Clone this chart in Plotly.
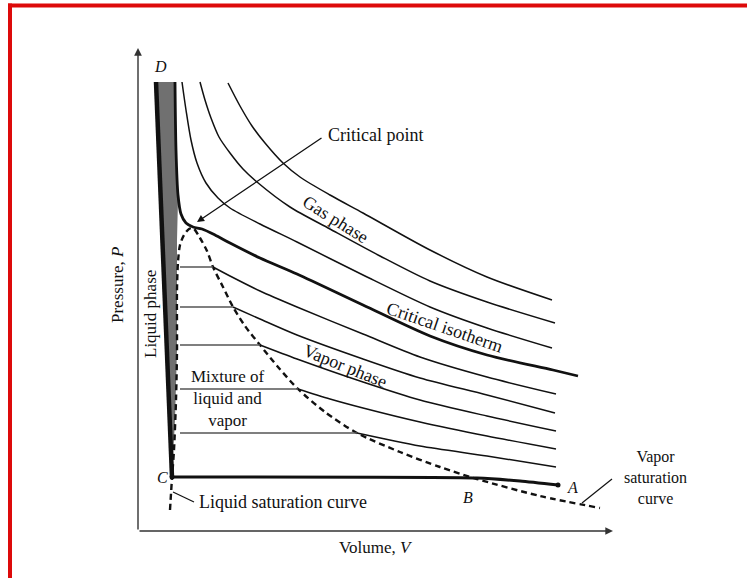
import plotly.graph_objects as go

# ---------------- data (volume V, pressure P; arbitrary units) ----------------
liquid_V = [1.8, 3.4]                     # D -> C (liquid line)
liquid_P = [44.9, 5.4]

band_V = [1.8, 3.7, 3.8, 4.0, 3.9, 3.9, 3.7, 3.4, 1.8]   # shaded liquid-phase band
band_P = [44.9, 44.9, 38.1, 33.1, 29.1, 18.1, 11.1, 5.4, 44.9]

gas1_V = [9.0, 10.2, 11.4, 12.7, 14.5, 16.2, 19.2, 22.5, 29.2, 34.9, 41.4]
gas1_P = [44.8, 42.5, 40.5, 38.8, 36.8, 35.4, 33.6, 31.8, 28.1, 25.4, 23.1]
gas2_V = [6.2, 6.7, 7.3, 8.1, 9.2, 10.5, 11.9, 15.2, 19.2, 24.2, 29.2, 34.9, 41.7]
gas2_P = [44.9, 43.1, 41.3, 39.4, 37.8, 36.2, 34.9, 32.4, 30.2, 27.5, 25.0, 22.9, 20.8]
gas3_V = [4.4, 4.8, 5.3, 5.9, 6.8, 8.0, 9.2, 12.2, 15.9, 22.5, 29.2, 34.9, 41.4]
gas3_P = [44.9, 42.1, 39.1, 36.8, 34.8, 33.3, 32.3, 30.7, 28.9, 25.6, 22.4, 20.3, 18.3]

crit_V = [3.7, 3.8, 4.0, 4.3, 4.8, 5.5, 6.4, 7.7, 9.2, 12.2, 15.9, 22.5, 29.2, 34.9, 41.5, 44.0]
crit_P = [44.9, 38.1, 33.6, 31.7, 30.8, 30.4, 30.2, 29.6, 28.8, 27.3, 25.7, 22.6, 19.5, 17.6, 16.1, 15.5]

sub1_V = [7.5, 9.2, 12.2, 15.9, 22.5, 28.2, 34.9, 41.8]
sub1_P = [26.4, 25.5, 24.0, 22.4, 19.7, 17.4, 15.4, 13.7]
sub2_V = [9.5, 12.2, 15.9, 22.5, 28.2, 34.9, 41.7]
sub2_P = [22.4, 21.2, 19.6, 17.2, 15.3, 13.6, 11.8]
sub3_V = [12.2, 15.9, 22.5, 28.2, 34.9, 41.8]
sub3_P = [18.6, 17.2, 14.9, 13.1, 11.5, 10.0]
sub4_V = [16.0, 19.2, 22.5, 28.2, 34.9, 41.8]
sub4_P = [14.2, 13.2, 12.3, 10.9, 9.5, 8.2]
sub5_V = [21.9, 28.2, 34.9, 41.8]
sub5_P = [9.8, 8.5, 7.5, 6.4]

tie_V_liquid = 4.2
tie_V_vapor = [7.5, 9.5, 12.2, 16.0, 21.9]
tie_P = [26.4, 22.4, 18.6, 14.2, 9.8]

dome_V = [3.2, 3.4, 3.6, 3.8, 3.9, 3.9, 4.0, 4.2, 4.6, 5.1, 5.5, 6.2, 6.9, 7.5, 8.5,
          9.5, 10.7, 12.2, 14.0, 16.0, 18.7, 21.9, 26.2, 30.2, 33.9, 40.2, 46.2]
dome_P = [2.1, 5.3, 8.1, 13.1, 18.1, 24.1, 26.9, 28.6, 29.6, 30.2, 30.3, 29.3, 28.0, 26.4, 24.4,
          22.4, 20.5, 18.6, 16.4, 14.2, 11.9, 9.8, 7.9, 6.4, 5.2, 3.5, 2.3]

ca_V = [3.4, 33.9, 38.2, 42.0]            # C -> B -> A
ca_P = [5.4, 5.3, 5.0, 4.6]
end_V = [3.4, 42.0]
end_P = [5.4, 4.6]

V_MAX, P_MAX = 47.5, 48.3

SERIF = "Liberation Serif, Times New Roman, DejaVu Serif, serif"
INK = "#111111"

fig = go.Figure()

fig.add_trace(go.Scatter(x=band_V, y=band_P, mode="lines", fill="toself",
                         fillcolor="#707070", line=dict(width=0), hoverinfo="skip"))

fig.add_trace(go.Scatter(x=dome_V, y=dome_P, mode="lines",
                         line=dict(color=INK, width=2.4, dash="6px,4px", shape="spline", smoothing=0.8)))

for vx, pv in [(gas1_V, gas1_P), (gas2_V, gas2_P), (gas3_V, gas3_P),
               (sub1_V, sub1_P), (sub2_V, sub2_P), (sub3_V, sub3_P),
               (sub4_V, sub4_P), (sub5_V, sub5_P)]:
    fig.add_trace(go.Scatter(x=vx, y=pv, mode="lines",
                             line=dict(color=INK, width=1.5, shape="spline", smoothing=0.8)))

for vv, pp in zip(tie_V_vapor, tie_P):
    fig.add_trace(go.Scatter(x=[tie_V_liquid, vv], y=[pp, pp], mode="lines",
                             line=dict(color="#555555", width=1.6)))

fig.add_trace(go.Scatter(x=crit_V, y=crit_P, mode="lines",
                         line=dict(color=INK, width=2.8, shape="spline", smoothing=0.8)))

fig.add_trace(go.Scatter(x=ca_V, y=ca_P, mode="lines",
                         line=dict(color=INK, width=3, shape="spline", smoothing=0.6)))
fig.add_trace(go.Scatter(x=end_V, y=end_P, mode="markers",
                         marker=dict(color=INK, size=5)))

fig.add_trace(go.Scatter(x=liquid_V, y=liquid_P, mode="lines",
                         line=dict(color="#111111", width=4.5)))

# plot-area geometry (pixels) used for labels placed outside the axes
L, T, W, H = 138, 48, 475, 483


def px(xp):
    return (xp - L) / W


def py(yp):
    return (T + H - yp) / H


annotations = []


def label(text, x, y, size=18, angle=0, xanchor="center"):
    annotations.append(dict(text=text, x=x, y=y, xref="x", yref="y", showarrow=False,
                            textangle=angle, xanchor=xanchor, yanchor="middle",
                            font=dict(family=SERIF, size=size, color=INK)))


def plabel(text, xp, yp, size=18, angle=0):
    annotations.append(dict(text=text, x=px(xp), y=py(yp), xref="paper", yref="paper",
                            showarrow=False, textangle=angle, xanchor="center", yanchor="middle",
                            font=dict(family=SERIF, size=size, color=INK)))


label("<i>D</i>", 2.2, 46.5, 16)
label("<i>C</i>", 2.4, 5.4, 16)
label("<i>B</i>", 33.0, 3.4, 16)
label("<i>A</i>", 43.4, 4.4, 16)
label("Critical point", 23.7, 39.6, 18)
label("Gas phase", 19.7, 31.2, 18, 32)
label("Critical isotherm", 30.6, 20.4, 18, 19)
label("Vapor phase", 20.7, 16.5, 18, 22)
label("Mixture of<br>liquid and<br>vapor", 9.0, 13.3, 17)
label("Liquid phase", 1.2, 21.7, 17, -90)
label("Liquid saturation curve", 5.9, 2.9, 18, 0, "left")
plabel("Pressure, <i>P</i>", 117, 285, 17, -90)
plabel("Volume, <i>V</i>", 376, 547, 17)
plabel("Vapor<br>saturation<br>curve", 655, 477, 16)

# arrow to critical point
annotations.append(dict(x=5.9, y=30.9, ax=18.5, ay=39.4, xref="x", yref="y", axref="x", ayref="y",
                        text="", showarrow=True, arrowhead=2, arrowsize=1.1, arrowwidth=1.3,
                        arrowcolor=INK, standoff=0))
# axes with arrow heads
annotations.append(dict(x=0, y=P_MAX, ax=0, ay=0, xref="x", yref="y", axref="x", ayref="y",
                        text="", showarrow=True, arrowhead=2, arrowsize=1.1, arrowwidth=1.4,
                        arrowcolor="#333333", standoff=0))
annotations.append(dict(x=V_MAX, y=0, ax=0, ay=0, xref="x", yref="y", axref="x", ayref="y",
                        text="", showarrow=True, arrowhead=2, arrowsize=1.1, arrowwidth=1.4,
                        arrowcolor="#333333", standoff=0))

shapes = [
    dict(type="line", xref="x", yref="y", x0=3.5, y0=3.9, x1=5.6, y1=2.9,
         line=dict(color=INK, width=1.2)),
    dict(type="line", xref="x", yref="y", x0=44.4, y0=2.8, x1=47.4, y1=5.2,
         line=dict(color=INK, width=1.2)),
]

# red frame of the picture
shapes.append(dict(type="rect", xref="paper", yref="paper", x0=px(8), x1=px(760), y0=py(7.5), y1=py(3.5),
                   fillcolor="#dd0a0a", line=dict(width=0)))
shapes.append(dict(type="rect", xref="paper", yref="paper", x0=px(8), x1=px(12), y0=py(590), y1=py(3.5),
                   fillcolor="#dd0a0a", line=dict(width=0)))

fig.update_layout(
    width=747, height=578,
    margin=dict(l=L, r=747 - L - W, t=T, b=578 - T - H),
    paper_bgcolor="white", plot_bgcolor="white",
    showlegend=False,
    xaxis=dict(range=[0, V_MAX], visible=False, fixedrange=True),
    yaxis=dict(range=[0, P_MAX], visible=False, fixedrange=True),
    annotations=annotations,
    shapes=shapes,
)

fig.write_html("out.html", config={"displayModeBar": False},
               post_script="document.body.style.margin='0px';")
